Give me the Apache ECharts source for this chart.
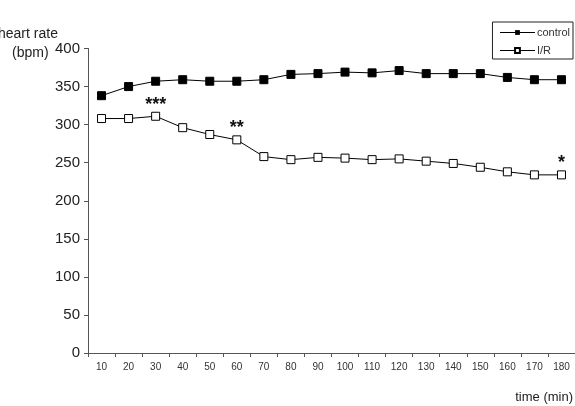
<!DOCTYPE html>
<html>
<head>
<meta charset="utf-8">
<script src="https://cdn.jsdelivr.net/npm/echarts@6/dist/echarts.min.js"></script>
<style>html,body{margin:0;padding:0;background:#fff}#c{width:575px;height:406px}</style>
</head>
<body>
<div id="c"></div>
<script>
var categories = ['10','20','30','40','50','60','70','80','90','100','110','120','130','140','150','160','170','180'];
var controlValues = [338,350,357,359,357,357,359,366,367,369,368,371,367,367,367,362,359,359];
var irValues = [308,308,311,296,287,280,258,254,257,256,254,255,252,249,244,238,234,234];
var irSignificance = {'30':'***','60':'**','180':'*'};
var yTicks = [0,50,100,150,200,250,300,350,400];

var chart = echarts.init(document.getElementById('c'));
var font = '"Liberation Sans", Arial, sans-serif';
var irData = irValues.map(function(v,i){
  var s = irSignificance[categories[i]];
  if (!s) return v;
  return {value: v, label: {show: true, formatter: s, position: 'top', distance: -2,
    fontSize: 18, fontWeight: 'bold', color: '#111', fontFamily: font}};
});
chart.setOption({
  animation: false,
  grid: {left: 88, right: 0, top: 48.5, bottom: 53, containLabel: false},
  legend: {
    right: 2, top: 22, orient: 'vertical', itemGap: 7,
    borderColor: '#222', borderWidth: 1, padding: [5, 3, 3, 7],
    itemWidth: 35, itemHeight: 6,
    lineStyle: {width: 1},
    textStyle: {fontSize: 11, color: '#333', fontFamily: font, padding: [0,0,0,-3]},
    data: ['control', 'I/R']
  },
  xAxis: {
    type: 'category', data: categories, boundaryGap: true,
    axisLine: {lineStyle: {color: '#555', width: 1}},
    axisTick: {show: true, length: 4, lineStyle: {color: '#555'}},
    axisLabel: {fontSize: 10, color: '#333', fontFamily: font, margin: 9, interval: 0}
  },
  yAxis: {
    type: 'value', min: 0, max: 400, interval: 50,
    splitLine: {show: false},
    axisLine: {show: true, lineStyle: {color: '#555', width: 1}},
    axisTick: {show: true, length: 4, lineStyle: {color: '#555'}},
    axisLabel: {fontSize: 15, color: '#222', fontFamily: font, margin: 8,
      formatter: function(v){ return yTicks.indexOf(v) >= 0 ? String(v) : ''; }}
  },
  graphic: [
    {type: 'text', left: -2, top: 27, style: {text: 'heart rate', font: '14px ' + font, fill: '#222'}},
    {type: 'text', left: 12, top: 46, style: {text: '(bpm)', font: '14px ' + font, fill: '#222'}},
    {type: 'text', right: 2, top: 391, style: {text: 'time (min)', font: '13px ' + font, fill: '#222'}}
  ],
  series: [
    {name: 'control', type: 'line', data: controlValues,
      symbol: 'rect', symbolSize: 8,
      itemStyle: {color: '#000', borderColor: '#000'},
      lineStyle: {color: '#000', width: 1}},
    {name: 'I/R', type: 'line', data: irData,
      symbol: 'rect', symbolSize: 8,
      itemStyle: {color: '#fff', borderColor: '#000', borderWidth: 1},
      lineStyle: {color: '#000', width: 1}}
  ]
});
</script>
</body>
</html>
